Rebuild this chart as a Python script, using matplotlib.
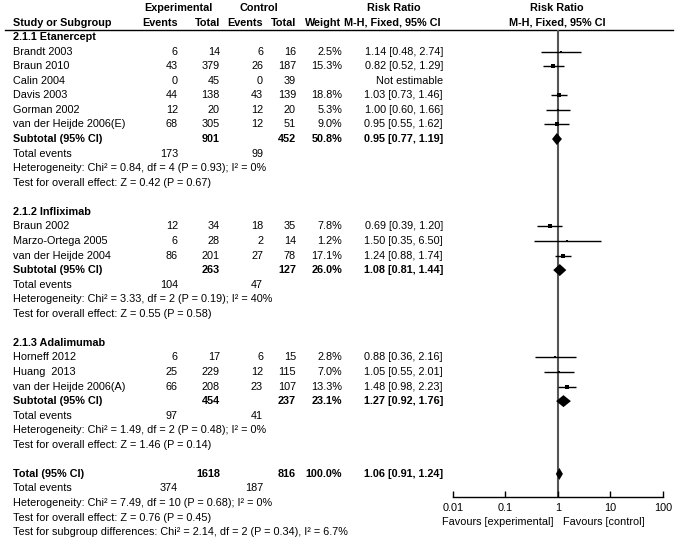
import matplotlib
matplotlib.use("Agg")
import matplotlib.pyplot as plt
import numpy as np

plt.rcParams['font.family'] = ['Liberation Sans', 'DejaVu Sans']

# ---------------- data ----------------
group_names = ["2.1.1 Etanercept", "2.1.2 Infliximab", "2.1.3 Adalimumab"]

g1_studies = ["Brandt 2003", "Braun 2010", "Calin 2004", "Davis 2003", "Gorman 2002", "van der Heijde 2006(E)"]
g1_exp_ev = [6, 43, 0, 44, 12, 68]
g1_exp_tot = [14, 379, 45, 138, 20, 305]
g1_ctl_ev = [6, 26, 0, 43, 12, 12]
g1_ctl_tot = [16, 187, 39, 139, 20, 51]
g1_weight = [2.5, 15.3, None, 18.8, 5.3, 9.0]
g1_rr = [1.14, 0.82, None, 1.03, 1.00, 0.95]
g1_lo = [0.48, 0.52, None, 0.73, 0.60, 0.55]
g1_hi = [2.74, 1.29, None, 1.46, 1.66, 1.62]

g2_studies = ["Braun 2002", "Marzo-Ortega 2005", "van der Heijde 2004"]
g2_exp_ev = [12, 6, 86]
g2_exp_tot = [34, 28, 201]
g2_ctl_ev = [18, 2, 27]
g2_ctl_tot = [35, 14, 78]
g2_weight = [7.8, 1.2, 17.1]
g2_rr = [0.69, 1.50, 1.24]
g2_lo = [0.39, 0.35, 0.88]
g2_hi = [1.20, 6.50, 1.74]

g3_studies = ["Horneff 2012", "Huang  2013", "van der Heijde 2006(A)"]
g3_exp_ev = [6, 25, 66]
g3_exp_tot = [17, 229, 208]
g3_ctl_ev = [6, 12, 23]
g3_ctl_tot = [15, 115, 107]
g3_weight = [2.8, 7.0, 13.3]
g3_rr = [0.88, 1.05, 1.48]
g3_lo = [0.36, 0.55, 0.98]
g3_hi = [2.16, 2.01, 2.23]

sub_exp_tot = [901, 263, 454]
sub_ctl_tot = [452, 127, 237]
sub_exp_ev = [173, 104, 97]
sub_ctl_ev = [99, 47, 41]
sub_weight = [50.8, 26.0, 23.1]
sub_rr = [0.95, 1.08, 1.27]
sub_lo = [0.77, 0.81, 0.92]
sub_hi = [1.19, 1.44, 1.76]
sub_het = ["Heterogeneity: Chi\u00b2 = 0.84, df = 4 (P = 0.93); I\u00b2 = 0%",
           "Heterogeneity: Chi\u00b2 = 3.33, df = 2 (P = 0.19); I\u00b2 = 40%",
           "Heterogeneity: Chi\u00b2 = 1.49, df = 2 (P = 0.48); I\u00b2 = 0%"]
sub_test = ["Test for overall effect: Z = 0.42 (P = 0.67)",
            "Test for overall effect: Z = 0.55 (P = 0.58)",
            "Test for overall effect: Z = 1.46 (P = 0.14)"]

tot_exp_tot, tot_ctl_tot = 1618, 816
tot_exp_ev, tot_ctl_ev = 374, 187
tot_weight = 100.0
tot_rr, tot_lo, tot_hi = 1.06, 0.91, 1.24
tot_het = "Heterogeneity: Chi\u00b2 = 7.49, df = 10 (P = 0.68); I\u00b2 = 0%"
tot_test = "Test for overall effect: Z = 0.76 (P = 0.45)"
tot_subgroup = "Test for subgroup differences: Chi\u00b2 = 2.14, df = 2 (P = 0.34), I\u00b2 = 6.7%"

xticks = [0.01, 0.1, 1, 10, 100]
xtick_labels = ["0.01", "0.1", "1", "10", "100"]

groups = [
    (g1_studies, g1_exp_ev, g1_exp_tot, g1_ctl_ev, g1_ctl_tot, g1_weight, g1_rr, g1_lo, g1_hi),
    (g2_studies, g2_exp_ev, g2_exp_tot, g2_ctl_ev, g2_ctl_tot, g2_weight, g2_rr, g2_lo, g2_hi),
    (g3_studies, g3_exp_ev, g3_exp_tot, g3_ctl_ev, g3_ctl_tot, g3_weight, g3_rr, g3_lo, g3_hi),
]

# ---------------- layout ----------------
W, H = 677, 537
fig = plt.figure(figsize=(W / 100, H / 100), dpi=100)
tab = fig.add_axes([0, 0, 1, 1])
tab.set_xlim(0, W)
tab.set_ylim(H, 0)
tab.axis('off')

X0, X1 = 453, 663
fa = fig.add_axes([X0 / W, 0, (X1 - X0) / W, 1])
fa.set_xscale('log')
fa.set_xlim(0.01, 100)
fa.set_ylim(H, 0)
fa.patch.set_alpha(0)
for s in ['left', 'right', 'top']:
    fa.spines[s].set_visible(False)
AXIS_Y = 497
fa.spines['bottom'].set_position(('data', AXIS_Y))
fa.spines['bottom'].set_linewidth(1.0)
fa.set_yticks([])
fa.set_xticks(xticks)
fa.set_xticklabels(xtick_labels)
fa.xaxis.set_minor_locator(matplotlib.ticker.NullLocator())
fs = 7.8
fa.tick_params(axis='x', direction='in', length=4, width=1.0, pad=4, labelsize=fs, colors='black')

ROW0, DY = 8.0, 14.56
def ry(i):
    return ROW0 + DY * i

X_NAME = 13
X_EEV, X_ETOT, X_CEV, X_CTOT, X_W, X_RR = 178, 220, 263, 296, 342, 443

def txt(x, y, s, ha='left', bold=False):
    tab.text(x, y, s, ha=ha, va='center', fontsize=fs,
             fontweight='bold' if bold else 'normal', color='black')

# headers
txt(178, ry(0), "Experimental", ha='center', bold=True)
txt(259, ry(0), "Control", ha='center', bold=True)
txt(394, ry(0), "Risk Ratio", ha='center', bold=True)
txt(557, ry(0), "Risk Ratio", ha='center', bold=True)
txt(X_NAME, ry(1), "Study or Subgroup", bold=True)
txt(X_EEV, ry(1), "Events", ha='right', bold=True)
txt(X_ETOT, ry(1), "Total", ha='right', bold=True)
txt(X_CEV, ry(1), "Events", ha='right', bold=True)
txt(X_CTOT, ry(1), "Total", ha='right', bold=True)
txt(X_W - 1, ry(1), "Weight", ha='right', bold=True)
txt(440, ry(1), "M-H, Fixed, 95% CI", ha='right', bold=True)
txt(557, ry(1), "M-H, Fixed, 95% CI", ha='center', bold=True)
tab.plot([5, 673], [29.5, 29.5], color='black', lw=1.0)

def rr_str(r, l, h):
    return "%.2f [%.2f, %.2f]" % (r, l, h)

def diamond(y, r, l, h, half=6):
    fa.fill([l, r, h, r], [y, y - half, y, y + half], color='black', lw=0, zorder=3)

row = 2
for gi, g in enumerate(groups):
    names, eev, etot, cev, ctot, wts, rrs, los, his = g
    txt(X_NAME, ry(row), group_names[gi], bold=True)
    row += 1
    for k in range(len(names)):
        y = ry(row)
        txt(X_NAME, y, names[k])
        txt(X_EEV, y, str(eev[k]), ha='right')
        txt(X_ETOT, y, str(etot[k]), ha='right')
        txt(X_CEV, y, str(cev[k]), ha='right')
        txt(X_CTOT, y, str(ctot[k]), ha='right')
        if rrs[k] is None:
            txt(X_RR, y, "Not estimable", ha='right')
        else:
            txt(X_W, y, "%.1f%%" % wts[k], ha='right')
            txt(X_RR, y, rr_str(rrs[k], los[k], his[k]), ha='right')
            fa.hlines(y, los[k], his[k], color='black', lw=1.0, zorder=2)
            side_px = 1.1 * np.sqrt(wts[k])
            fa.scatter([rrs[k]], [y], marker='s', s=(side_px * 0.72) ** 2,
                       color='black', linewidths=0, zorder=3)
        row += 1
    y = ry(row)
    txt(X_NAME, y, "Subtotal (95% CI)", bold=True)
    txt(X_ETOT, y, str(sub_exp_tot[gi]), ha='right', bold=True)
    txt(X_CTOT, y, str(sub_ctl_tot[gi]), ha='right', bold=True)
    txt(X_W, y, "%.1f%%" % sub_weight[gi], ha='right', bold=True)
    txt(X_RR, y, rr_str(sub_rr[gi], sub_lo[gi], sub_hi[gi]), ha='right', bold=True)
    diamond(y, sub_rr[gi], sub_lo[gi], sub_hi[gi])
    row += 1
    y = ry(row)
    txt(X_NAME, y, "Total events")
    txt(X_EEV, y, str(sub_exp_ev[gi]), ha='right')
    txt(X_CEV, y, str(sub_ctl_ev[gi]), ha='right')
    row += 1
    txt(X_NAME, ry(row), sub_het[gi]); row += 1
    txt(X_NAME, ry(row), sub_test[gi]); row += 1
    row += 1  # blank

y = ry(row)
txt(X_NAME, y, "Total (95% CI)", bold=True)
txt(X_ETOT, y, str(tot_exp_tot), ha='right', bold=True)
txt(X_CTOT, y, str(tot_ctl_tot), ha='right', bold=True)
txt(X_W, y, "%.1f%%" % tot_weight, ha='right', bold=True)
txt(X_RR, y, rr_str(tot_rr, tot_lo, tot_hi), ha='right', bold=True)
diamond(y, tot_rr, tot_lo, tot_hi)
row += 1
y = ry(row)
txt(X_NAME, y, "Total events")
txt(X_EEV, y, str(tot_exp_ev), ha='right')
txt(X_CEV, y, str(tot_ctl_ev), ha='right')
row += 1
txt(X_NAME, ry(row), tot_het); row += 1
txt(X_NAME, ry(row), tot_test); row += 1
txt(X_NAME, ry(row), tot_subgroup); row += 1

# line of no effect
fa.vlines(1, 29.5, AXIS_Y, color='#555555', lw=1.5, zorder=1)

# favours labels
txt(553, 522, "Favours [experimental]", ha='right')
txt(563, 522, "Favours [control]", ha='left')

fig.savefig("out.png", dpi=100)
